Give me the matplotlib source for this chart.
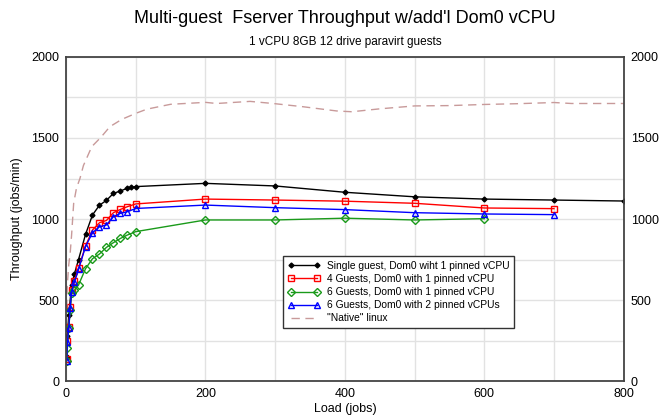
import matplotlib.pyplot as plt
from matplotlib.ticker import MultipleLocator

plt.rcParams['font.family'] = ['Liberation Sans', 'DejaVu Sans']

# Single guest, Dom0 with 1 pinned vCPU
single_x = [1, 2, 4, 8, 12, 18, 28, 38, 48, 58, 68, 78, 88, 93, 100,
            200, 300, 400, 500, 600, 700, 800]
single_y = [150, 280, 410, 590, 660, 750, 905, 1025, 1085, 1115, 1158, 1173, 1190, 1195, 1200,
            1220, 1204, 1165, 1137, 1123, 1117, 1111]

# 4 guests, Dom0 with 1 pinned vCPU
g4_x = [1, 2, 4, 6, 8, 12, 18, 28, 38, 48, 58, 68, 78, 88, 100,
        200, 300, 400, 500, 600, 700]
g4_y = [135, 250, 335, 458, 560, 620, 696, 833, 932, 977, 991, 1039, 1059, 1076, 1093,
        1123, 1117, 1110, 1097, 1068, 1064]

# 6 guests, Dom0 with 1 pinned vCPU
g6a_x = [1, 2, 4, 6, 8, 12, 18, 28, 38, 48, 58, 68, 78, 88, 100,
         200, 300, 400, 500, 600]
g6a_y = [125, 204, 330, 438, 541, 560, 593, 693, 755, 784, 825, 854, 880, 901, 922,
         994, 994, 1005, 994, 1002]

# 6 guests, Dom0 with 2 pinned vCPUs
g6b_x = [1, 2, 4, 6, 8, 12, 18, 28, 38, 48, 58, 68, 78, 88, 100,
         200, 300, 400, 500, 600, 700]
g6b_y = [125, 240, 330, 450, 550, 610, 689, 830, 915, 952, 963, 1014, 1035, 1045, 1065,
         1086, 1070, 1058, 1039, 1031, 1027]

# "Native" linux
native_x = [1, 2, 4, 6, 8, 11, 15, 20, 25, 37, 50, 63, 80, 100, 116, 150, 200, 216,
            264, 297, 340, 388, 410, 450, 500, 550, 600, 650, 700, 725, 800]
native_y = [450, 600, 720, 790, 900, 1097, 1190, 1250, 1330, 1447, 1504, 1570, 1615, 1652,
            1678, 1708, 1720, 1713, 1726, 1713, 1693, 1667, 1662, 1680, 1698, 1700, 1707,
            1712, 1719, 1713, 1713]

fig = plt.figure(figsize=(6.66, 4.16), dpi=100)
ax = fig.add_axes([0.0991, 0.0841, 0.8374, 0.7789])

ax.plot(single_x, single_y, color='black', lw=1, marker='D', ms=2.5,
        label='Single guest, Dom0 wiht 1 pinned vCPU')
ax.plot(g4_x, g4_y, color='#ff0000', lw=1, marker='s', ms=4.5, mfc='none',
        label='4 Guests, Dom0 with 1 pinned vCPU')
ax.plot(g6a_x, g6a_y, color='#1a9a1a', lw=1, marker='D', ms=4, mfc='none',
        label='6 Guests, Dom0 with 1 pinned vCPU')
ax.plot(g6b_x, g6b_y, color='#0000ff', lw=1, marker='^', ms=4.5, mfc='none',
        label='6 Guests, Dom0 with 2 pinned vCPUs')
ax.plot(native_x, native_y, color='#c89a9a', lw=1, ls=(0, (6, 4)),
        label='"Native" linux')

ax.set_xlim(0, 800)
ax.set_ylim(0, 2000)
ax.xaxis.set_major_locator(MultipleLocator(200))
ax.xaxis.set_minor_locator(MultipleLocator(100))
ax.yaxis.set_major_locator(MultipleLocator(500))
ax.yaxis.set_minor_locator(MultipleLocator(250))
ax.grid(True, which='both', color='#e2e2e2', lw=1)
ax.set_axisbelow(True)
ax.tick_params(which='both', length=0, labelsize=9, pad=5,
               right=True, labelright=True)
for s in ax.spines.values():
    s.set_color('#444444')
    s.set_linewidth(1.3)

ax.set_xlabel('Load (jobs)', fontsize=9, labelpad=2)
ax.set_ylabel('Throughput (jobs/min)', fontsize=9, labelpad=6)

fig.text(0.518, 0.955, "Multi-guest  Fserver Throughput w/add'l Dom0 vCPU",
         ha='center', va='center', fontsize=13)
fig.text(0.518, 0.898, '1 vCPU 8GB 12 drive paravirt guests',
         ha='center', va='center', fontsize=8.5)

leg = ax.legend(loc='lower left', bbox_to_anchor=(0.38, 0.148), fontsize=7.4,
                frameon=True, fancybox=False, framealpha=1, edgecolor='#333333',
                numpoints=2, handlelength=3.2, borderpad=0.45, labelspacing=0.3,
                handletextpad=0.6)
leg.get_frame().set_linewidth(1)

fig.savefig('out.png', dpi=100)
